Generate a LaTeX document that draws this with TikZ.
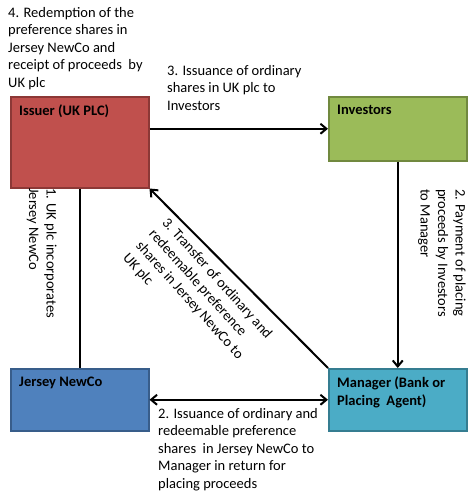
\documentclass[tikz,border=0pt]{standalone}
\usepackage{fontspec}
\setmainfont{Carlito}
\usetikzlibrary{arrows.meta}
\definecolor{issuerRed}{HTML}{C0504D}
\definecolor{issuerEdge}{HTML}{8C3836}
\definecolor{investorGreen}{HTML}{9BBB59}
\definecolor{investorEdge}{HTML}{71893F}
\definecolor{newcoBlue}{HTML}{4F81BD}
\definecolor{newcoEdge}{HTML}{385D8A}
\definecolor{managerAqua}{HTML}{4BACC6}
\definecolor{managerEdge}{HTML}{357D91}

\begin{document}
\begin{tikzpicture}[x=1pt, y=-1pt, >={Straight Barb[length=6pt, width=10pt]}]

    % --- 0. Page frame ---
    \useasboundingbox (0,0) rectangle (474,501);

    % --- 1. Styles ---
    \tikzset{
        party/.style={rectangle, line width=1.5pt, minimum width=138pt, minimum height=91pt, anchor=north west, inner sep=0pt},
        partytext/.style={anchor=north west, inner xsep=9pt, inner ysep=9pt, align=left, font=\fontsize{14.5pt}{18pt}\selectfont\bfseries},
        flow/.style={line width=2pt},
        note/.style={align=left, inner sep=0pt, font=\fontsize{14.5pt}{17.5pt}\selectfont}
    }

    % --- 2. The four parties ---
    \node[party, fill=issuerRed, draw=issuerEdge,
          label={[partytext]north west:Issuer (UK PLC)}] (issuer) at (10,96) {};
    \node[party, fill=investorGreen, draw=investorEdge, minimum height=64pt,
          label={[partytext]north west:Investors}] (investors) at (328,96) {};
    \node[party, fill=newcoBlue, draw=newcoEdge, minimum height=62pt,
          label={[partytext]north west:Jersey NewCo}] (newco) at (10,368) {};
    \node[party, fill=managerAqua, draw=managerEdge, minimum height=62pt,
          label={[partytext]north west:Manager (Bank or\\Placing\ \ Agent)}] (manager) at (328,368) {};

    % --- 3. Flows between parties ---
    \draw[flow] (issuer.south) -- (newco.north);
    \draw[flow, ->] (issuer.east |- investors.west) -- (investors.west);
    \draw[flow, ->] (investors.south) -- (manager.north);
    \draw[flow, ->] (manager.north west) -- (issuer.south east);
    \draw[flow, <->] (newco.east) -- (manager.west);

    % --- 4. Step notes ---
    \node[note, anchor=north west] (redeem) at (8,7)
        {4. Redemption of the\\preference shares in\\Jersey NewCo and\\receipt of proceeds\ \ by\\UK plc};
    \node[note, anchor=north west] (issueuk) at (167,65)
        {3. Issuance of ordinary\\shares in UK plc to\\Investors};
    \node[note, anchor=north west, rotate=-90] (incorp) at (57,188)
        {1. UK plc incorporates\\Jersey NewCo};
    \node[note, anchor=north west, rotate=-90] (payment) at (466,189)
        {2. Payment of placing\\proceeds by Investors\\to Manager};
    \node[note, anchor=north west, rotate=-48] (transfer) at (169,216)
        {3. Transfer of ordinary and\\redeemable preference\\shares in Jersey NewCo to\\UK plc};
    \node[note, anchor=north west] (issuenewco) at (158,408)
        {2. Issuance of ordinary and\\redeemable preference\\shares\ \ in Jersey NewCo to\\Manager in return for\\placing proceeds};

\end{tikzpicture}
\end{document}
